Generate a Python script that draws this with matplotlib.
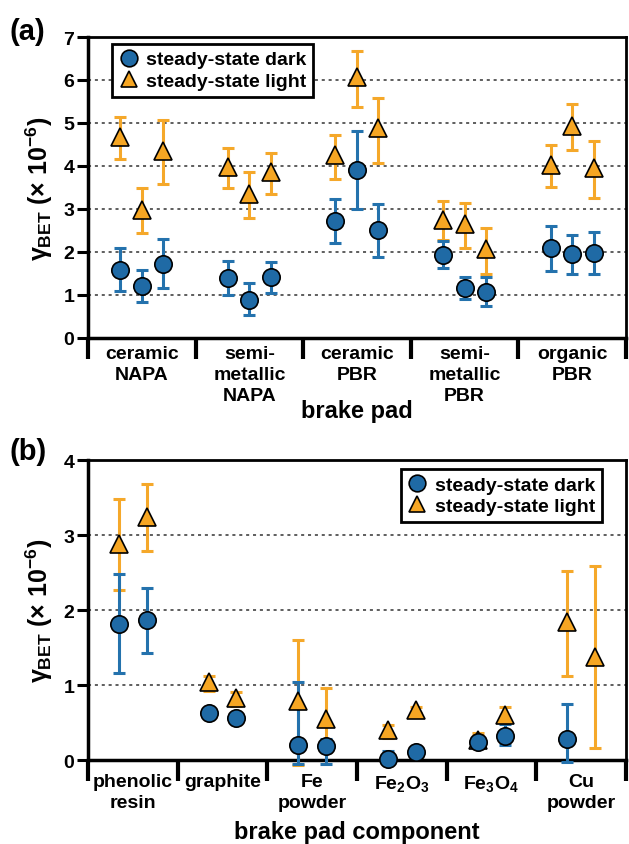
import numpy as np
import matplotlib
matplotlib.use("Agg")
from matplotlib import pyplot as plt
from matplotlib.lines import Line2D

plt.rcParams['font.family'] = ['Liberation Sans', 'DejaVu Sans']
plt.rcParams['font.weight'] = 'bold'
plt.rcParams['mathtext.fontset'] = 'custom'
plt.rcParams['mathtext.rm'] = 'Liberation Sans:bold'
plt.rcParams['mathtext.bf'] = 'Liberation Sans:bold'
plt.rcParams['mathtext.it'] = 'Liberation Sans:bold'

# (a) brake pads, three samples each
pads = ['ceramic\nNAPA', 'semi-\nmetallic\nNAPA', 'ceramic\nPBR', 'semi-\nmetallic\nPBR', 'organic\nPBR']
pad_dark = [[1.59, 1.20, 1.71], [1.39, 0.89, 1.41], [2.73, 3.91, 2.50], [1.93, 1.15, 1.07], [2.09, 1.94, 1.98]]
pad_dark_lo = [[1.09, 0.83, 1.15], [1.00, 0.52, 1.05], [2.21, 3.00, 1.89], [1.63, 0.91, 0.73], [1.55, 1.48, 1.48]]
pad_dark_hi = [[2.10, 1.57, 2.29], [1.78, 1.28, 1.77], [3.23, 4.81, 3.11], [2.25, 1.41, 1.41], [2.61, 2.39, 2.46]]
pad_light = [[4.68, 2.98, 4.35], [3.97, 3.35, 3.85], [4.26, 6.06, 4.88], [2.74, 2.64, 2.06], [4.03, 4.94, 3.95]]
pad_light_lo = [[4.17, 2.43, 3.57], [3.48, 2.80, 3.35], [3.69, 5.38, 4.08], [2.27, 2.08, 1.48], [3.52, 4.37, 3.26]]
pad_light_hi = [[5.13, 3.48, 5.07], [4.41, 3.87, 4.30], [4.72, 6.68, 5.57], [3.18, 3.14, 2.55], [4.48, 5.43, 4.57]]

# (b) components, two samples each
comps = ['phenolic\nresin', 'graphite', 'Fe\npowder', 'Fe$_2$O$_3$', 'Fe$_3$O$_4$', 'Cu\npowder']
comp_dark = [[1.82, 1.87], [0.63, 0.56], [0.21, 0.19], [0.02, 0.11], [0.24, 0.32], [0.28, np.nan]]
comp_dark_lo = [[1.16, 1.43], [0.60, 0.53], [-0.05, -0.05], [0.00, 0.08], [0.19, 0.20], [-0.02, np.nan]]
comp_dark_hi = [[2.49, 2.30], [0.66, 0.59], [1.04, 0.28], [0.12, 0.14], [0.29, 0.49], [0.75, np.nan]]
comp_light = [[2.88, 3.24], [1.04, 0.83], [0.79, 0.55], [0.40, 0.67], [0.27, 0.61], [1.85, 1.38]]
comp_light_lo = [[2.27, 2.79], [0.93, 0.73], [-0.06, 0.11], [0.30, 0.63], [0.16, 0.52], [1.12, 0.16]]
comp_light_hi = [[3.49, 3.68], [1.13, 0.91], [1.60, 0.96], [0.47, 0.71], [0.36, 0.71], [2.52, 2.59]]

blue = '#2472ad'
blue_face = '#1f6aa5'
orange = '#f5a82a'
orange_face = '#f6a623'

ylab = r'$\gamma_{\mathrm{BET}}$ (× 10$^{-6}$)'


def panel(ax, names, dark, dlo, dhi, light, llo, lhi, offsets, ymax, xlabel, tpad, xlab_y):
    for g in range(len(names)):
        xs = g + 0.5 + np.array(offsets)
        for vals, lo, hi, ec, fc, mk, ms in [
                (light, llo, lhi, orange, orange_face, '^', 12.5),
                (dark, dlo, dhi, blue, blue_face, 'o', 12.5)]:
            v = np.array(vals[g], dtype=float)
            err = [v - np.array(lo[g]), np.array(hi[g]) - v]
            eb = ax.errorbar(xs, v, yerr=err, fmt='none', ecolor=ec, elinewidth=2.2,
                             capsize=4.5, capthick=2.2, zorder=3, clip_on=False)
            for art in eb.get_children():
                art.set_clip_on(False)
            ax.plot(xs, v, mk, ms=ms, mfc=fc, mec='black', mew=1.2, ls='none',
                    zorder=4, clip_on=False)

    ax.set_xlim(0, len(names))
    ax.set_ylim(0, ymax)
    ax.set_yticks(range(0, ymax + 1))
    for y in range(1, ymax):
        ax.axhline(y, color='#333333', lw=1.1, ls=(0, (2, 2.5)), zorder=1)

    ax.set_xticks(np.arange(len(names)) + 0.5)
    ax.set_xticklabels(names, fontsize=14, fontweight='bold', linespacing=1.3)
    ax.tick_params(axis='x', which='major', length=0, pad=tpad)
    ax.set_xticks(np.arange(len(names) + 1), minor=True)
    ax.tick_params(axis='x', which='minor', length=15, width=3, direction='out')
    ax.tick_params(axis='y', labelsize=14, length=8, width=2.2, pad=2)
    for lab in ax.get_yticklabels():
        lab.set_fontweight('bold')
    for s in ax.spines.values():
        s.set_linewidth(2.5)
    ax.spines['top'].set_linewidth(2.0)
    ax.spines['right'].set_linewidth(2.0)
    ax.set_ylabel(ylab, fontsize=18, fontweight='bold', labelpad=6)
    ax.set_xlabel(xlabel, fontsize=17, fontweight='bold')
    ax.xaxis.set_label_coords(0.5, xlab_y)
    ax.xaxis.label.set_va('center')


fig = plt.figure(figsize=(6.29, 8.45), dpi=100)
ax1 = fig.add_axes([0.140, 0.599, 0.855, 0.356])
ax2 = fig.add_axes([0.140, 0.099, 0.855, 0.355])

panel(ax1, pads, pad_dark, pad_dark_lo, pad_dark_hi, pad_light, pad_light_lo, pad_light_hi,
      [-0.2, 0.0, 0.2], 7, 'brake pad', 5, -0.243)
panel(ax2, comps, comp_dark, comp_dark_lo, comp_dark_hi, comp_light, comp_light_lo, comp_light_hi,
      [-0.155, 0.155], 4, 'brake pad component', 9, -0.237)

handles = [Line2D([], [], marker='o', ls='none', ms=12, mfc=blue_face, mec='black', mew=1.2),
           Line2D([], [], marker='^', ls='none', ms=12, mfc=orange_face, mec='black', mew=1.2)]
labels = ['steady-state dark', 'steady-state light']
for ax, loc, anchor in [(ax1, 'upper left', (0.045, 0.977)), (ax2, 'upper right', (0.955, 0.97))]:
    leg = ax.legend(handles, labels, loc=loc, bbox_to_anchor=anchor, fancybox=False,
                    edgecolor='black', framealpha=1, fontsize=14, handlelength=1.0,
                    handletextpad=0.4, borderpad=0.35, labelspacing=0.2, borderaxespad=0)
    leg.get_frame().set_linewidth(2.0)
    leg.set_zorder(5)

fig.text(0.015, 0.962, '(a)', fontsize=21, fontweight='bold', va='center')
fig.text(0.015, 0.465, '(b)', fontsize=21, fontweight='bold', va='center')

fig.savefig('out.png', dpi=100)
